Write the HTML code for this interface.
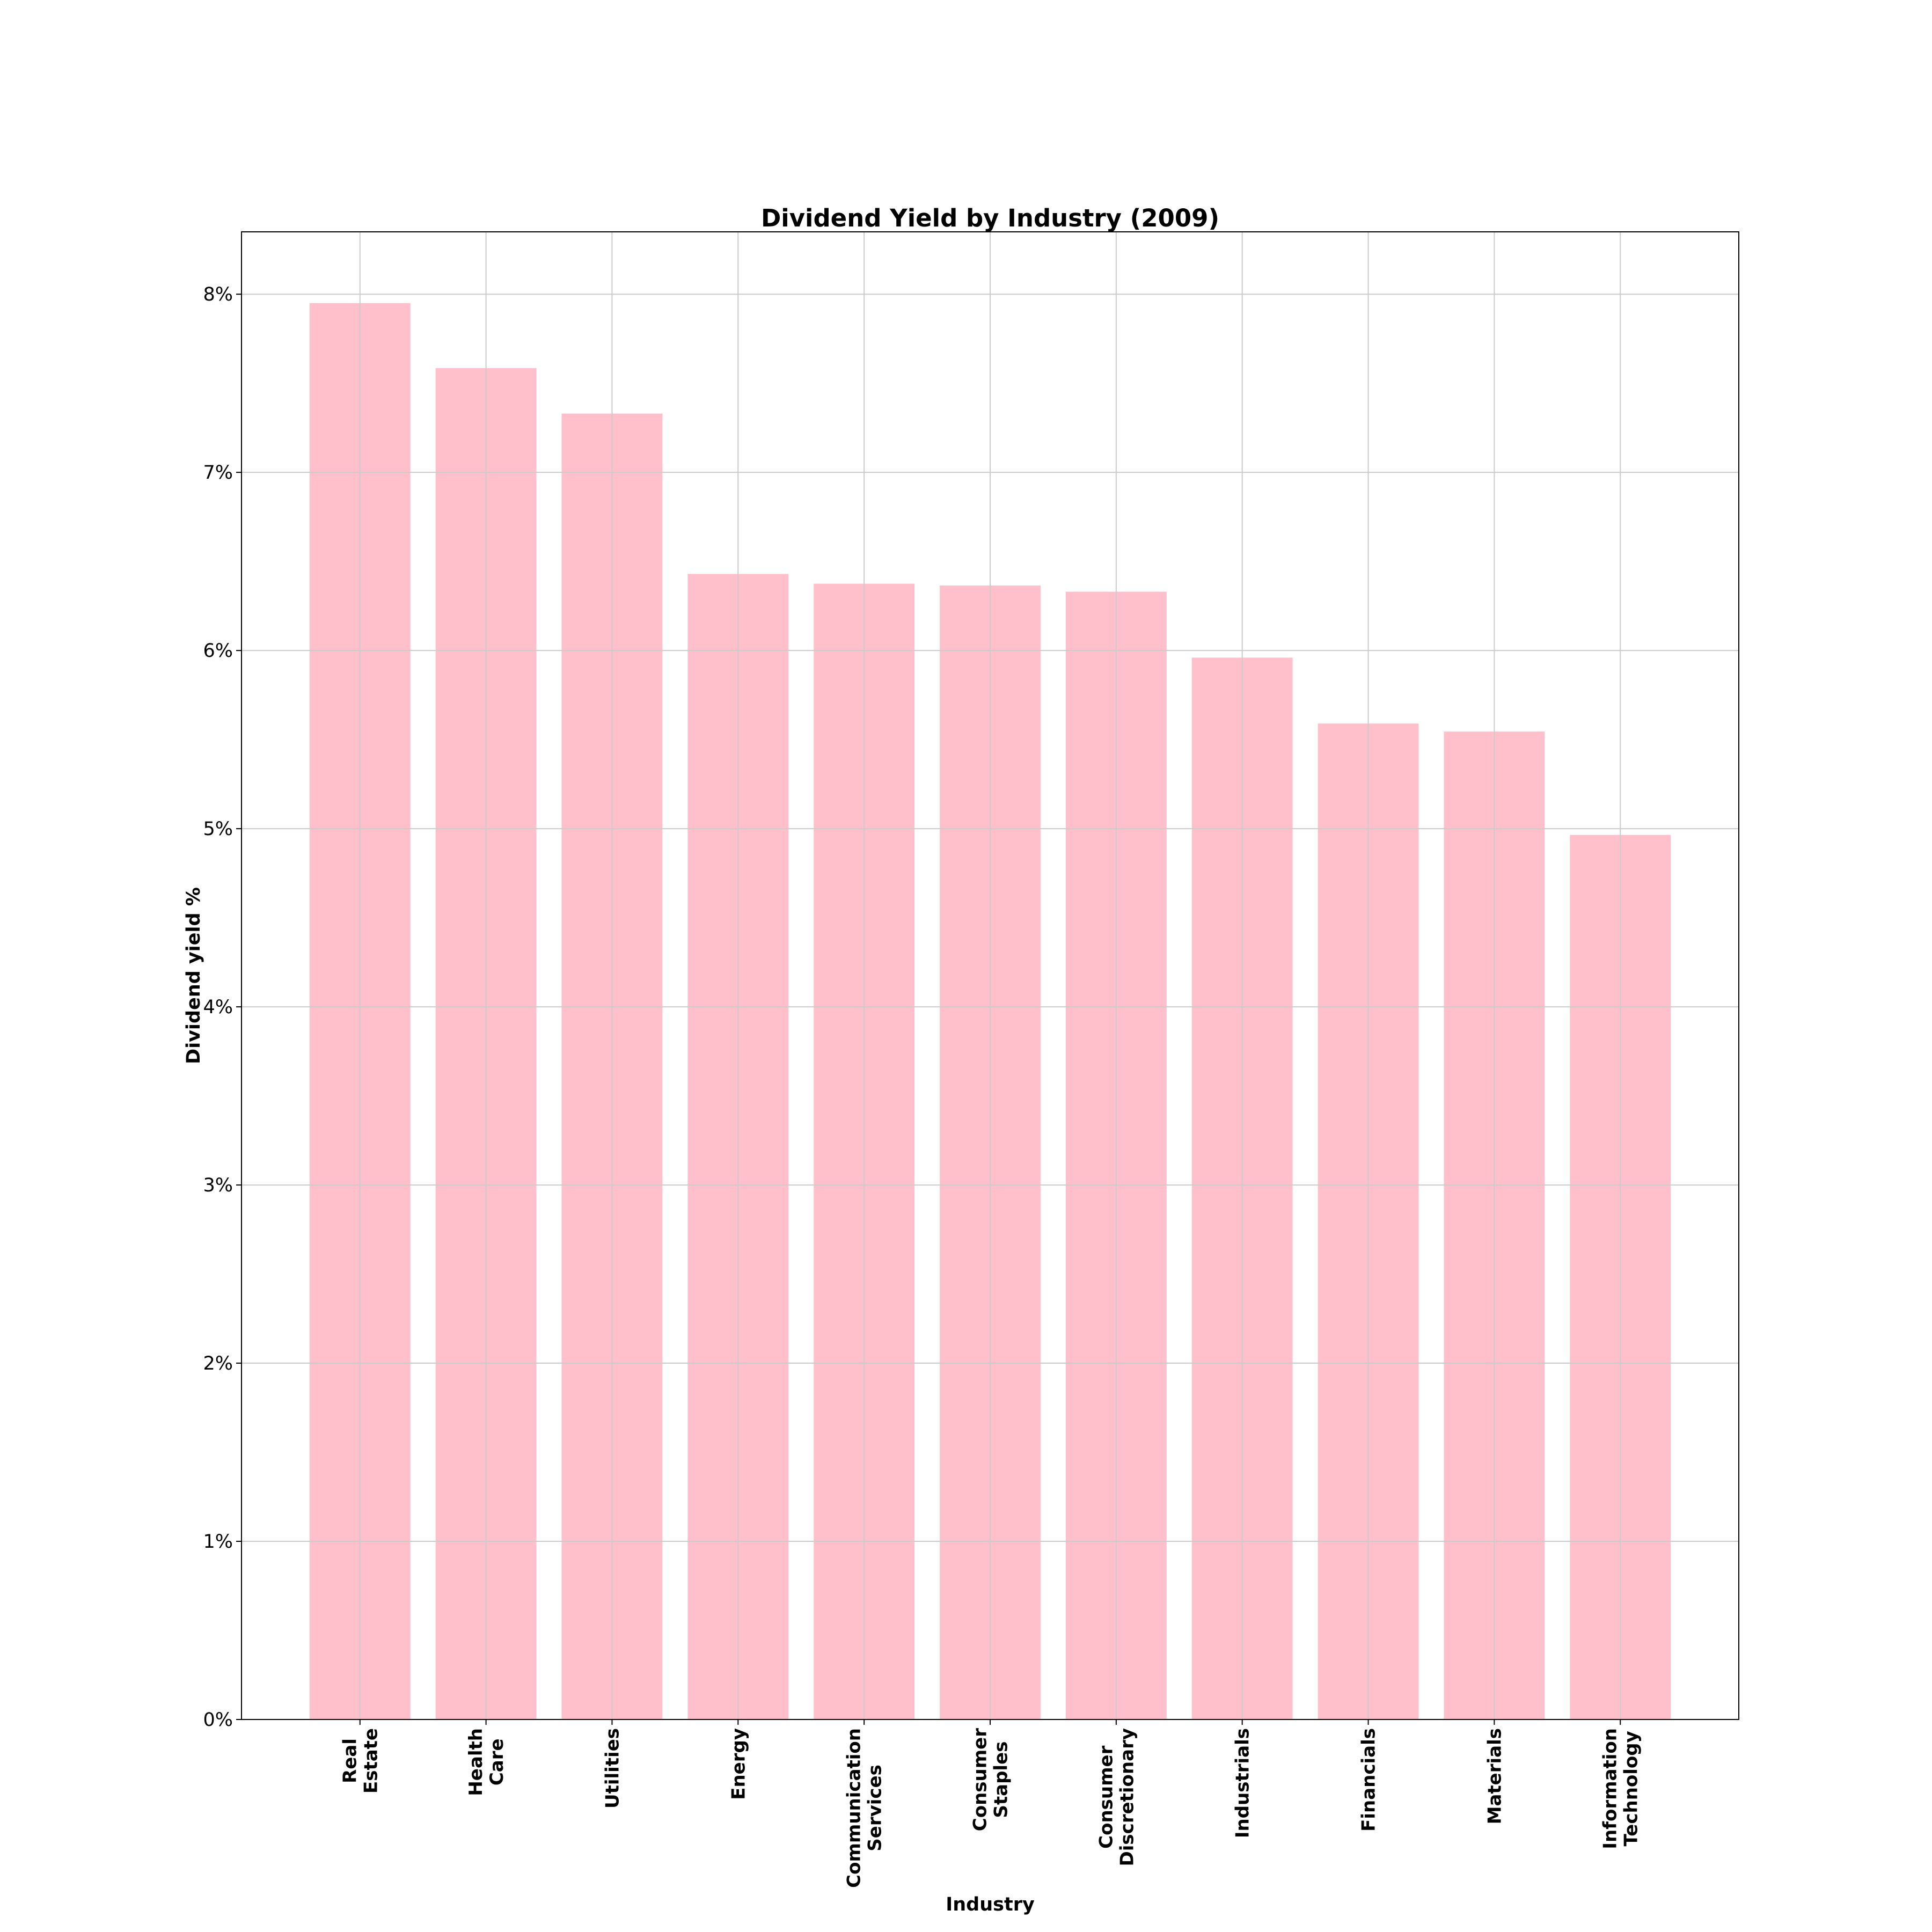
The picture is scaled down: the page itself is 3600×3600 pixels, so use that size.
<!DOCTYPE html>
<html><head><meta charset="utf-8"><style>
html,body{margin:0;padding:0;background:#fff;}
svg{display:block;font-family:"DejaVu Sans","Liberation Sans",sans-serif;}
</style></head><body>
<svg id="chart" width="3600" height="3600" viewBox="0 0 3600 3600">
<rect width="3600" height="3600" fill="#fff"/>
<g id="bars"></g>
<g id="grid"></g>
<rect x="450" y="432" width="2790" height="2772" fill="none" stroke="#000" stroke-width="2"/>
<g id="yticks"></g>
<g id="xticks"></g>
<text x="1845" y="422" text-anchor="middle" font-size="45" font-weight="bold">Dividend Yield by Industry (2009)</text>
<text x="1845" y="3560" text-anchor="middle" font-size="35" font-weight="bold">Industry</text>
<text transform="translate(372,1818) rotate(-90)" text-anchor="middle" font-size="35" font-weight="bold">Dividend yield %</text>
</svg>
<script>
const categories = [["Real","Estate"],["Health","Care"],["Utilities"],["Energy"],["Communication","Services"],["Consumer","Staples"],["Consumer","Discretionary"],["Industrials"],["Financials"],["Materials"],["Information","Technology"]];
const values = [7.95, 7.585, 7.33, 6.43, 6.375, 6.365, 6.33, 5.96, 5.59, 5.545, 4.965];
const yTicks = [0,1,2,3,4,5,6,7,8];
const yTickLabels = ["0%","1%","2%","3%","4%","5%","6%","7%","8%"];

const NS = "http://www.w3.org/2000/svg";
const L=450,R=3240,T=432,B=3204;
const xMin=-0.94, xMax=categories.length-1+0.94, yMin=0, yMax=8.35;
const xs = v => L + (v - xMin)/(xMax - xMin)*(R-L);
const ys = v => B - (v - yMin)/(yMax - yMin)*(B-T);
function mk(tag, attrs, parent){const e=document.createElementNS(NS,tag);for(const k in attrs)e.setAttribute(k,attrs[k]);parent.appendChild(e);return e;}
const gBars=document.getElementById('bars'), gGrid=document.getElementById('grid'), gY=document.getElementById('yticks'), gX=document.getElementById('xticks');
const bw = xs(0.4)-xs(-0.4);
values.forEach((v,i)=>{
  const r=mk('rect',{x:xs(i)-bw/2,y:ys(v),width:bw,height:ys(0)-ys(v),fill:'#ffc0cb'},gBars);
  
  
});
yTicks.forEach((t,i)=>{
  const y=ys(t);
  const g=mk('line',{x1:L,x2:R,y1:y,y2:y,stroke:'#cbcbcb','stroke-width':2},gGrid);
  
  
  mk('line',{x1:L-10,x2:L,y1:y,y2:y,stroke:'#000','stroke-width':2},gY);
  const tx=mk('text',{x:L-16,y:y+12,'text-anchor':'end','font-size':35},gY);
  tx.textContent=yTickLabels[i];
  
  
});
categories.forEach((lines,i)=>{
  const x=xs(i);
  const g=mk('line',{x1:x,x2:x,y1:T,y2:B,stroke:'#cbcbcb','stroke-width':2},gGrid);
  
  
  mk('line',{x1:x,x2:x,y1:B,y2:B+10,stroke:'#000','stroke-width':2},gX);
  const lh=39, n=lines.length;
  const texts=lines.map((s,j)=>{
    const cx=x+(j-(n-1)/2)*lh;
    const t=mk('text',{'font-size':34,'font-weight':'bold','text-anchor':'middle'},gX);
    t.textContent=s;
    
    
    return [t,cx];
  });
  const maxLen=Math.max(...texts.map(([t])=>t.getComputedTextLength()));
  const cy=3220+maxLen/2;
  texts.forEach(([t,cx])=>{
    t.setAttribute('transform',`translate(${cx+12},${cy}) rotate(-90)`);
  });
});
</script>
</body></html>
